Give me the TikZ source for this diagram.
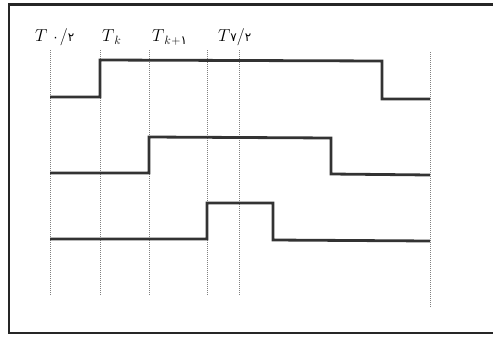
\documentclass[tikz,border=0pt]{standalone}
\usepackage{fontspec}
\newfontfamily\fa{DejaVu Sans}
\newcommand{\fd}[1]{{\fa\fontsize{12}{14}\selectfont #1}}
\newcommand{\sbk}[1]{\mbox{\fontsize{12}{14}\selectfont #1}}
\begin{document}
\begin{tikzpicture}[x=1pt,y=-1pt,
  frame/.style={line width=2.6pt,draw=black!85},
  sig/.style={line width=2.8pt,draw=black!80,line join=miter},
  guide/.style={densely dotted,line width=1pt,draw=black!50},
  lbl/.style={font=\fontsize{16.5}{18}\selectfont,inner sep=0pt,anchor=base west}]
\useasboundingbox (0,0) rectangle (493,340);
\fill[white] (0,0) rectangle (493,340);
% frame (right side cut off)
\draw[frame] (493,4.5) -- (9,4.5) -- (9,333) -- (493,333);
% guides
\foreach \x/\b in {50/295,100/295,149.5/295,207/296,239/296} \draw[guide] (\x,50) -- (\x,\b);
\draw[guide] (430,52) -- (430,308);
% signals
\draw[sig] (50,97) -- (100,97) -- (100,60) -- (382,61) -- (382,99) -- (430,99);
\draw[sig] (50,173) -- (149,173) -- (149,137) -- (331,138) -- (331,174) -- (430,175);
\draw[sig] (50,239) -- (207,239) -- (207,203) -- (273,203) -- (273,240) -- (430,241);
% labels
\node[lbl] (l0) at (35,41) {$T$\hspace{5pt}\fd{۰}\hspace{1pt}$/$\fd{۲}};
\node[lbl] (l1) at (102,41) {$T\raisebox{-3pt}{\sbk{$k$}}$};
\node[lbl] (l2) at (152,41) {$T\raisebox{-3pt}{\sbk{$k$\hspace{0.5pt}+\fd{۱}}}$};
\node[lbl] (l3) at (218,41) {$T$\fd{۷}$/$\fd{۲}};
\end{tikzpicture}
\end{document}
